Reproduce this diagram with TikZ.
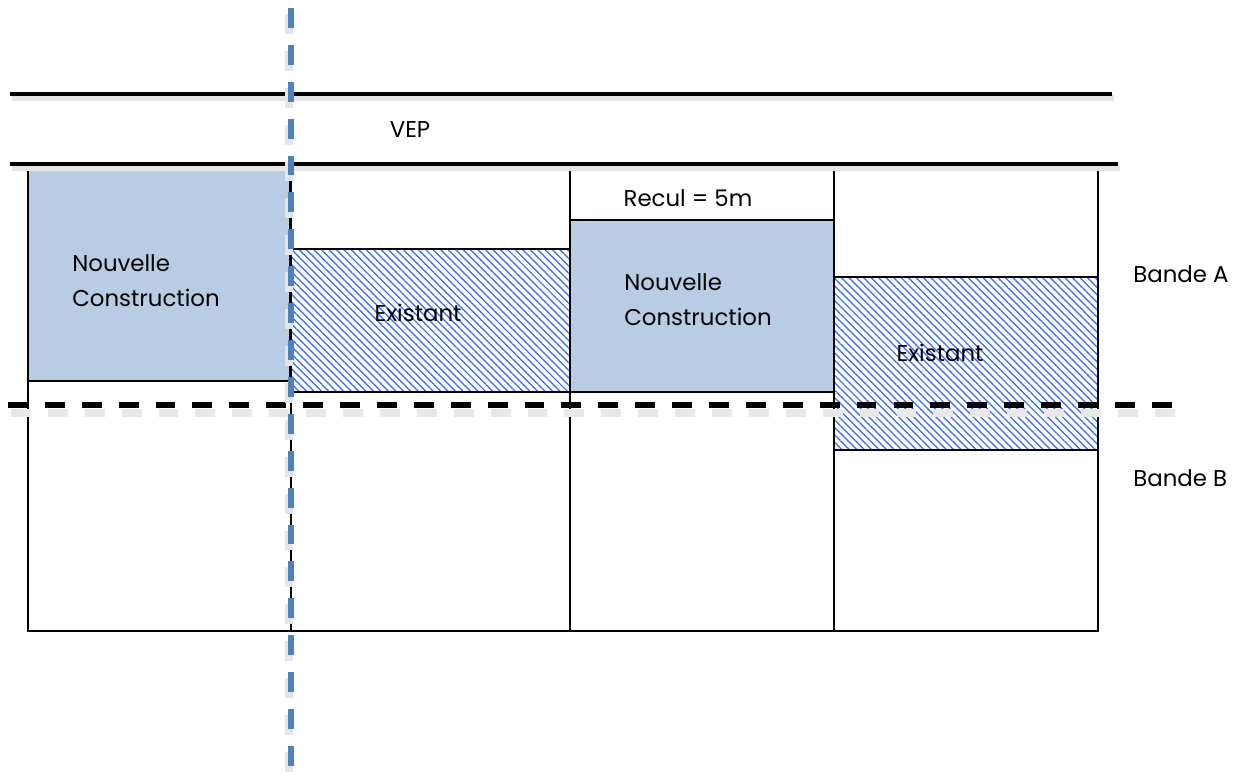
\documentclass[tikz,border=0pt]{standalone}
\usepackage{fontspec}
\setmainfont{Poppins}
\usetikzlibrary{patterns.meta}
\definecolor{cblue}{RGB}{184,204,228}
\definecolor{hatchc}{RGB}{51,102,255}
\definecolor{axisc}{RGB}{79,129,189}
\tikzset{
  lbl/.style={font=\fontsize{13}{20}\selectfont, inner sep=0pt},
  cell/.style={draw=black, line width=1.1pt},
  newbox/.style={draw=black, line width=1.1pt, fill=cblue},
  oldbox/.style={draw=black, line width=1.1pt, pattern={Lines[angle=-45,distance=3pt,line width=0.7pt]}, pattern color=hatchc},
  roadline/.style={line width=2.3pt, black},
  roadshadow/.style={line width=3pt, black!10},
  bandline/.style={line width=3.3pt, black, dash pattern=on 11.3pt off 9.7pt},
  shadowline/.style={line width=4.5pt, black!9, dash pattern=on 11.3pt off 9.7pt},
  axisline/.style={line width=3.1pt, axisc, dash pattern=on 11.3pt off 9.7pt},
  axisshadow/.style={line width=4pt, black!10, dash pattern=on 11.3pt off 9.7pt}
}
\begin{document}
\begin{tikzpicture}[x=0.02cm,y=-0.02cm]
\useasboundingbox (0,0) rectangle (1249,778);
% columns
\draw[cell] (28,166) rectangle (291,631);
\draw[cell] (291,166) rectangle (570,631);
\draw[cell] (570,166) rectangle (834,631);
\draw[cell] (834,166) rectangle (1098,631);
\draw[cell] (570,166) rectangle (834,220);
% buildings
\draw[newbox] (28,166) rectangle (290,381);
\draw[oldbox] (291,249) rectangle (570,392);
\draw[newbox] (570,220) rectangle (834,392);
\draw[oldbox] (834,277) rectangle (1098,450);
% road lines
\draw[roadshadow] (12,98) -- (1114,98);
\draw[roadshadow] (12,168) -- (1120,168);
\draw[roadline] (10,94) coordinate (r1a) -- (1112,94) coordinate (r1b);
\draw[roadline] (10,164) coordinate (r2a) -- (1118,164) coordinate (r2b);
% band line
\draw[shadowline] (11,413) -- (1186,413);
\draw[bandline] (8,405) coordinate (b1) -- (1183,405) coordinate (b2);
% axis
\draw[axisshadow] (289,14) -- (289,782);
\draw[axisline] (291,8) coordinate (a1) -- (291,778) coordinate (a2);
% labels
\node[lbl] (vep) at (410,130) {VEP};
\node[lbl, anchor=west] (nc1) at (72,282) {\begin{tabular}{@{}l@{}}Nouvelle\\Construction\end{tabular}};
\node[lbl] (ex1) at (418,313) {Existant};
\node[lbl] (recul) at (688,198) {Recul = 5m};
\node[lbl, anchor=west] (nc2) at (624,301) {\begin{tabular}{@{}l@{}}Nouvelle\\Construction\end{tabular}};
\node[lbl] (ex2) at (940,353) {Existant};
\node[lbl, anchor=west] (ba) at (1133,274) {Bande A};
\node[lbl, anchor=west] (bb) at (1133,478) {Bande B};
\end{tikzpicture}
\end{document}
